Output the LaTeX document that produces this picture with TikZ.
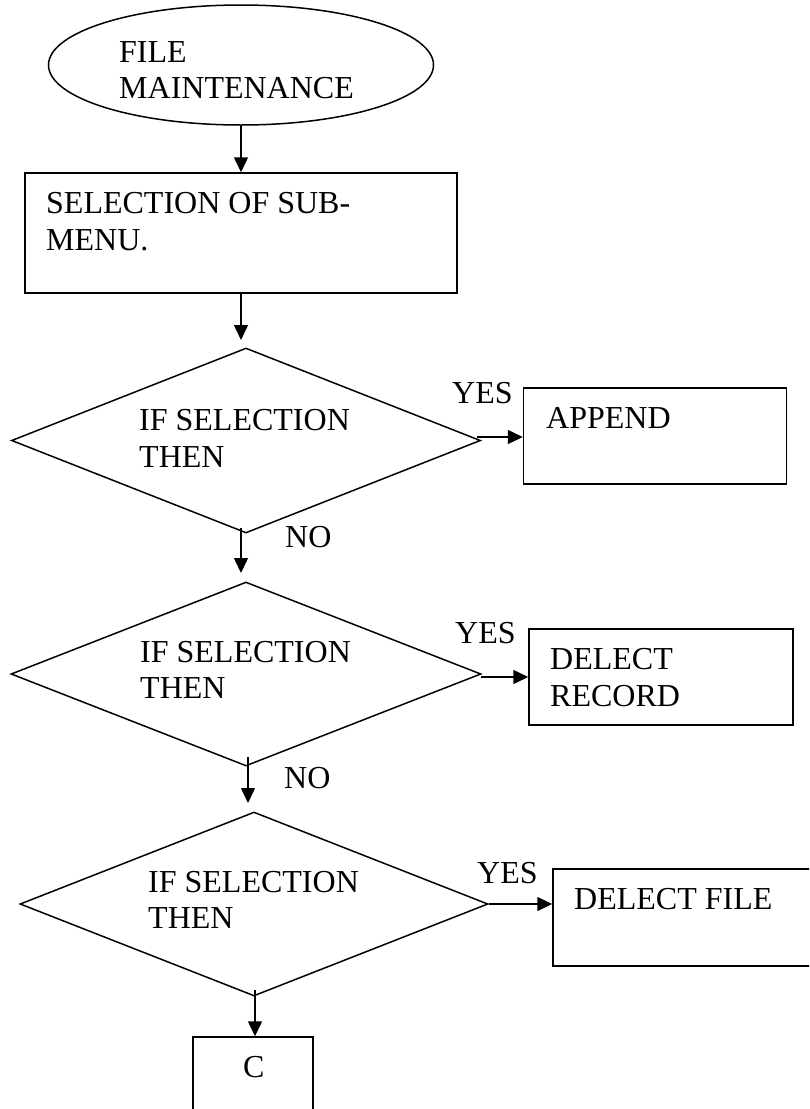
\documentclass[tikz,border=0pt]{standalone}
\usepackage{fontspec}
\setmainfont{Liberation Serif}
\usetikzlibrary{shapes.geometric,arrows.meta}

\tikzset{
  shapeline/.style={draw=black, line width=1.5pt, inner sep=0pt},
  termbox/.style={shapeline, ellipse},
  procbox/.style={shapeline, rectangle},
  decbox/.style={shapeline, diamond},
  txt/.style={anchor=base west, inner sep=0pt, font=\fontsize{32}{37}\selectfont},
  arr/.style={line width=1.5pt, -{Triangle[length=15pt,width=14pt]}}
}

\begin{document}
\begin{tikzpicture}[x=1pt, y=-1pt]
\useasboundingbox (0,0) rectangle (809,1109);
\clip (0,0) rectangle (809,1109);
\fill[white] (0,0) rectangle (809,1109);

% start terminal
\node[termbox, minimum width=385pt, minimum height=120pt] (start) at (241,65) {};
\node[txt] (startA) at (119,62) {FILE};
\node[txt] (startB) at (119,98) {MAINTENANCE};

% sub-menu selection
\node[procbox, minimum width=432pt, minimum height=120pt] (menu) at (241,233) {};
\node[txt] (menuA) at (46,213) {SELECTION OF SUB-};
\node[txt] (menuB) at (46,250) {MENU.};

% first decision
\node[decbox, minimum width=469pt, minimum height=185pt] (d1) at (246,440.5) {};
\node[txt] (d1A) at (139,430) {IF SELECTION};
\node[txt] (d1B) at (139,467) {THEN};
\node[procbox, minimum width=263pt, minimum height=96pt] (b1) at (655,436) {};
\node[txt] (b1A) at (546,428) {APPEND};
\node[txt] (y1) at (452,403) {YES};
\node[txt] (n1) at (285,547) {NO};

% second decision
\node[decbox, minimum width=470pt, minimum height=184pt] (d2) at (246,674) {};
\node[txt] (d2A) at (140,662) {IF SELECTION};
\node[txt] (d2B) at (140,698) {THEN};
\node[procbox, minimum width=264pt, minimum height=96pt] (b2) at (661,677) {};
\node[txt] (b2A) at (550,669) {DELECT};
\node[txt] (b2B) at (550,706) {RECORD};
\node[txt] (y2) at (455,643) {YES};
\node[txt] (n2) at (284,788) {NO};

% third decision
\node[decbox, minimum width=468pt, minimum height=184pt] (d3) at (254,904) {};
\node[txt] (d3A) at (148,892) {IF SELECTION};
\node[txt] (d3B) at (148,928) {THEN};
\node[procbox, minimum width=280pt, minimum height=97pt] (b3) at (693,917.5) {};
\node[txt] (b3A) at (574,909) {DELECT FILE};
\node[txt] (y3) at (477,883) {YES};

% connector box
\node[procbox, minimum width=120pt, minimum height=100pt] (cbox) at (253,1087) {};
\node[txt] (cA) at (243,1077) {C};

% connector end points
\coordinate (m0) at (start.south);
\coordinate (m1) at (241,340);
\coordinate (n1a) at (241,528);
\coordinate (n1b) at (241,573);
\coordinate (n2a) at (248,757);
\coordinate (n2b) at (248,803);
\coordinate (n3a) at (255,990);

% connectors
\draw[arr] (m0) -- (menu.north -| m0);
\draw[arr] (menu.south -| m1) -- (m1);
\draw[arr] (477,437) coordinate (e1) -- (e1 -| b1.west);
\draw[arr] (n1a) -- (n1b);
\draw[arr] (481,677) coordinate (e2) -- (e2 -| b2.west);
\draw[arr] (n2a) -- (n2b);
\draw[arr] (d3.east) -- (d3.east -| b3.west);
\draw[arr] (n3a) -- (n3a |- cbox.north);
\end{tikzpicture}
\end{document}
